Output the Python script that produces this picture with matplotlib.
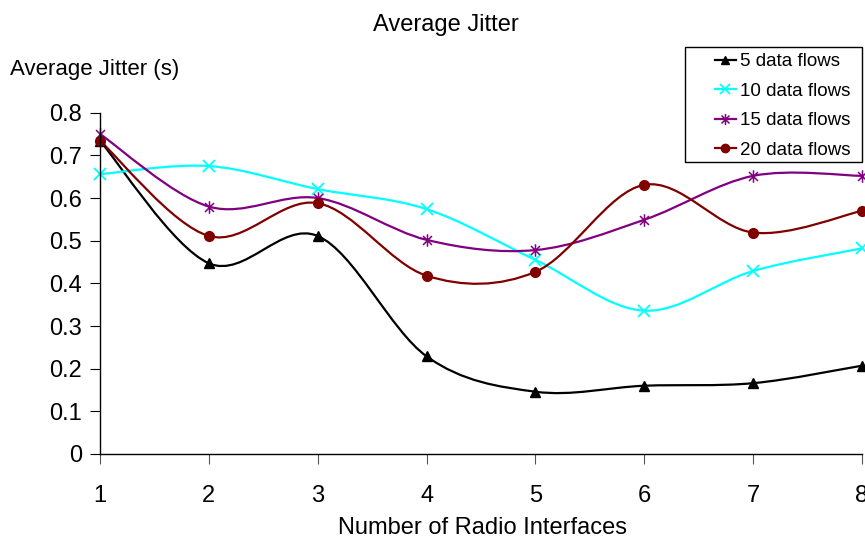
import numpy as np
import matplotlib
matplotlib.use("Agg")
from matplotlib import pyplot as plt
from matplotlib.path import Path
from matplotlib.patches import PathPatch, Rectangle
from matplotlib.lines import Line2D

plt.rcParams['font.family'] = ['Liberation Sans', 'DejaVu Sans']

interfaces = [1, 2, 3, 4, 5, 6, 7, 8]
flows_5 = [0.734, 0.447, 0.511, 0.229, 0.146, 0.160, 0.166, 0.207]
flows_10 = [0.656, 0.675, 0.621, 0.574, 0.455, 0.336, 0.429, 0.482]
flows_15 = [0.750, 0.580, 0.600, 0.502, 0.478, 0.549, 0.652, 0.652]
flows_20 = [0.734, 0.511, 0.588, 0.418, 0.427, 0.631, 0.519, 0.570]
labels = ["5 data flows", "10 data flows", "15 data flows", "20 data flows"]
y_ticks = [0, 0.1, 0.2, 0.3, 0.4, 0.5, 0.6, 0.7, 0.8]

# asterisk marker: an x with a vertical bar through it
star = Path([(-1, -1), (1, 1), (-1, 1), (1, -1), (0, -1.4), (0, 1.4)],
            [Path.MOVETO, Path.LINETO, Path.MOVETO, Path.LINETO,
             Path.MOVETO, Path.LINETO])

styles = [
    dict(color="black", marker="^", ms=7, mew=1),
    dict(color="#00FFFF", marker="x", ms=8, mew=1.3),
    dict(color="#800080", marker=star, ms=9, mew=1.1),
    dict(color="#800000", marker="o", ms=7, mew=1),
]


def smooth_path(xs, ys):
    # cubic bezier through every point, catmull-rom style tangents
    pts = list(zip(xs, ys))
    verts = [pts[0]]
    codes = [Path.MOVETO]
    n = len(pts)
    for i in range(n - 1):
        p0 = pts[max(i - 1, 0)]
        p1 = pts[i]
        p2 = pts[i + 1]
        p3 = pts[min(i + 2, n - 1)]
        c1 = (p1[0] + (p2[0] - p0[0]) / 6, p1[1] + (p2[1] - p0[1]) / 6)
        c2 = (p2[0] - (p3[0] - p1[0]) / 6, p2[1] - (p3[1] - p1[1]) / 6)
        verts += [c1, c2, p2]
        codes += [Path.CURVE4] * 3
    return Path(verts, codes)


W, H = 865, 542
fig = plt.figure(figsize=(W / 100, H / 100), dpi=100)
ax = fig.add_axes([100 / W, 1 - 454 / H, 762 / W, (454 - 112.7) / H])

handles = []
for series, st, lab in zip([flows_5, flows_10, flows_15, flows_20], styles, labels):
    ax.add_patch(PathPatch(smooth_path(interfaces, series), fill=False,
                           edgecolor=st["color"], lw=1.6, clip_on=False))
    ax.plot(interfaces, series, linestyle="none", marker=st["marker"],
            ms=st["ms"], mew=st["mew"], color=st["color"], clip_on=False)
    handles.append(Line2D([], [], color=st["color"], lw=1.6, marker=st["marker"],
                          ms=st["ms"] - 1, mew=st["mew"], label=lab))

ax.set_xlim(1, 8)
ax.set_ylim(0, 0.8)
ax.set_xticks(interfaces)
ax.set_yticks(y_ticks)
ax.set_yticklabels(["0" if v == 0 else f"{v:.1f}" for v in y_ticks])
for side in ["top", "right"]:
    ax.spines[side].set_visible(False)
ax.spines["left"].set_linewidth(1)
ax.spines["bottom"].set_linewidth(1)
ax.tick_params(axis="x", direction="out", length=7, pad=15, labelsize=17, color="#555555")
ax.tick_params(axis="y", direction="out", length=7, pad=6, labelsize=17)

fig.text(446 / W, 1 - 25 / H, "Average Jitter", ha="center", va="center", fontsize=17)
fig.text(10 / W, 1 - 70 / H, "Average Jitter (s)", ha="left", va="center", fontsize=16)
fig.text(483 / W, 1 - 528 / H, "Number of Radio Interfaces", ha="center", va="center", fontsize=17)

# legend box drawn separately, entries sit at its right side
fig.patches.append(Rectangle((685 / W, 1 - 162 / H), 177 / W, 115 / H,
                             transform=fig.transFigure, fill=True, facecolor="white",
                             edgecolor="black", lw=1, zorder=5))
leg = fig.legend(handles=handles, loc="upper right",
                 bbox_to_anchor=(850 / W, 1 - 53 / H), fontsize=13.5,
                 frameon=False, handlelength=1.1, handletextpad=0.2,
                 borderpad=0, labelspacing=0.66, borderaxespad=0)
leg.set_zorder(6)

fig.savefig("out.png", dpi=100)
